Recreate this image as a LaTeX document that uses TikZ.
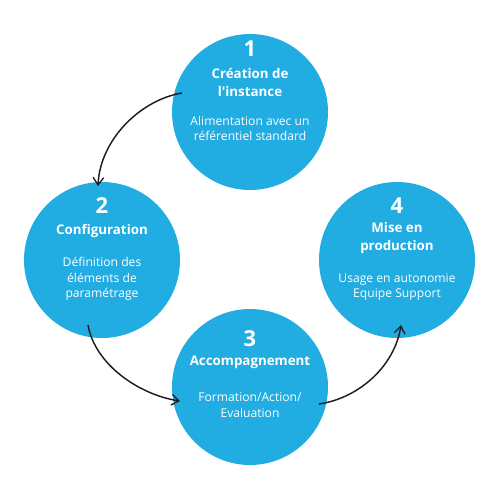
\documentclass[tikz,border=0pt]{standalone}
\usepackage{fontspec}
\setmainfont{Open Sans}[Ligatures=TeXOff]
\usetikzlibrary{arrows.meta}
\definecolor{stepblue}{RGB}{33,172,226}
\definecolor{arrowgray}{RGB}{30,30,30}

\begin{document}
\begin{tikzpicture}[x=0.75pt,y=0.75pt,yscale=-1,xscale=1,
  stepdisc/.style={circle,fill=stepblue,draw=none,minimum size=117pt,inner sep=0pt},
  numtxt/.style={text=white,inner sep=0pt,font=\bfseries\fontsize{16.5}{18}\selectfont},
  titletxt/.style={text=white,inner sep=0pt,align=center,font=\bfseries\fontsize{10}{13.5}\selectfont},
  desctxt/.style={text=white,inner sep=0pt,align=center,font=\fontsize{9.1}{11.8}\selectfont},
  flowarrow/.style={draw=arrowgray,line width=1.1pt,-{Straight Barb[length=5.5pt,width=8pt,line width=1pt]}}]
\useasboundingbox (0,0) rectangle (500,500);
% the four steps
\node [stepdisc] (c1) at (250,112) {};
\node [stepdisc] (c2) at (102,260) {};
\node [stepdisc] (c3) at (250,387) {};
\node [stepdisc] (c4) at (397,260) {};
% step 1
\draw (250,49) node [numtxt] (n1) {1};
\draw (250,82) node [titletxt] (t1) {Création de\\l'instance};
\draw (250,128.5) node [desctxt] (d1) {Alimentation avec un\\référentiel standard};
% step 2
\draw (102,206) node [numtxt] (n2) {2};
\draw (102,231) node [titletxt] (t2) {Configuration};
\draw (102,279) node [desctxt] (d2) {Définition des\\éléments de\\paramétrage};
% step 3
\draw (250,339) node [numtxt] (n3) {3};
\draw (250,362) node [titletxt] (t3) {Accompagnement};
\draw (250,405) node [desctxt] (d3) {Formation/Action/\\Evaluation};
% step 4
\draw (397,206) node [numtxt] (n4) {4};
\draw (397,238.5) node [titletxt] (t4) {Mise en\\production};
\draw (397,287) node [desctxt] (d4) {Usage en autonomie\\Equipe Support};
% arrows
\coordinate (a1s) at (182,93);
\coordinate (a1e) at (98,186);
\coordinate (a2s) at (88,325);
\coordinate (a2e) at (180,401);
\coordinate (a3s) at (319,404);
\coordinate (a3e) at (401,325);
\draw [flowarrow] (a1s) .. controls (140,100) and (100,140) .. (a1e);
\draw [flowarrow] (a2s) .. controls (95,365) and (140,395) .. (a2e);
\draw [flowarrow] (a3s) .. controls (360,398) and (395,365) .. (a3e);
\end{tikzpicture}
\end{document}
